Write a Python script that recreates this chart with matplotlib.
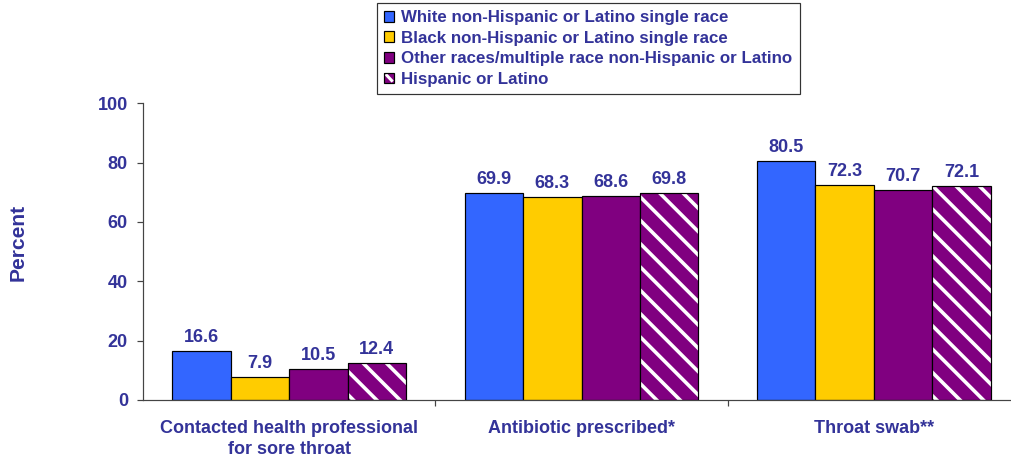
import matplotlib
matplotlib.use("Agg")
import matplotlib.pyplot as plt
import numpy as np
from matplotlib.patches import Patch, Rectangle
from matplotlib.lines import Line2D
from matplotlib.legend_handler import HandlerBase

categories = ["Contacted health professional\nfor sore throat", "Antibiotic prescribed*", "Throat swab**"]
series_names = ["White non-Hispanic or Latino single race",
                "Black non-Hispanic or Latino single race",
                "Other races/multiple race non-Hispanic or Latino",
                "Hispanic or Latino"]
white_vals = [16.6, 69.9, 80.5]
black_vals = [7.9, 68.3, 72.3]
other_vals = [10.5, 68.6, 70.7]
hisp_vals = [12.4, 69.8, 72.1]
yticks = [0, 20, 40, 60, 80, 100]

colors = ["#3366FF", "#FFCC00", "#800080", "#800080"]
TXT = "#333399"

W, H, DPI = 1011, 466, 70
def pt(px):
    return px * 72.0 / DPI

plt.rcParams['font.family'] = ['Liberation Sans', 'DejaVu Sans']
plt.rcParams['font.weight'] = 'bold'
plt.rcParams['hatch.linewidth'] = pt(3.6)

fig = plt.figure(figsize=(W / DPI, H / DPI), dpi=DPI)
ax = fig.add_axes([143 / W, (H - 400) / H, (1020 - 143) / W, (400 - 103.3) / H])

x = np.arange(len(categories))
bw = 0.2
all_vals = [white_vals, black_vals, other_vals, hisp_vals]
for i, vals in enumerate(all_vals):
    pos = x + (i - 1.5) * bw
    if i < 3:
        ax.bar(pos, vals, bw, color=colors[i], edgecolor='black', linewidth=pt(1.2), zorder=2)
    else:
        ax.bar(pos, vals, bw, color=colors[i], edgecolor='white', hatch='\\', linewidth=0, zorder=2)
        ax.bar(pos, vals, bw, fill=False, edgecolor='black', linewidth=pt(1.2), zorder=3)
    for p, v in zip(pos, vals):
        ax.annotate(f"{v:.1f}", (p, v), xytext=(0, pt(9)), textcoords='offset points',
                    ha='center', va='baseline', color=TXT, fontsize=pt(18), fontweight='bold')

ax.set_xlim(-0.5, 2.5)
ax.set_ylim(0, 100)
ax.set_yticks(yticks)
ax.set_yticklabels([str(t) for t in yticks])
ax.set_xticks([0.5, 1.5])
ax.set_xticklabels([])
ax.tick_params(axis='y', direction='out', length=pt(6), width=pt(1.2), color='#444444',
               labelsize=pt(18), labelcolor=TXT, pad=pt(9))
ax.tick_params(axis='x', direction='out', length=pt(6), width=pt(1.2), color='#444444')
for s in ['top', 'right']:
    ax.spines[s].set_visible(False)
for s in ['left', 'bottom']:
    ax.spines[s].set_color('#444444')
    ax.spines[s].set_linewidth(pt(1.2))

for xi, c in zip(x, categories):
    ax.text(xi, -0.068, c, transform=ax.get_xaxis_transform(), ha='center', va='top',
            color=TXT, fontsize=pt(18), fontweight='bold', linespacing=1.3)

fig.text(18 / W, 1 - 242 / H, "Percent", rotation=90, ha='center', va='center',
         color=TXT, fontsize=pt(21), fontweight='bold')


class StripeHandler(HandlerBase):
    def create_artists(self, legend, orig_handle, xdescent, ydescent, width, height,
                       fontsize, trans):
        x0, y0 = -xdescent, -ydescent
        bg = Rectangle((x0, y0), width, height, facecolor=colors[3], edgecolor='none',
                       transform=trans)
        ln = Line2D([x0 + width * 0.15, x0 + width * 0.85], [y0 + height * 0.85, y0 + height * 0.15],
                    color='white', linewidth=pt(3), transform=trans, solid_capstyle='butt')
        ln.set_clip_path(bg)
        fr = Rectangle((x0, y0), width, height, fill=False, edgecolor='black',
                       linewidth=pt(1.2), transform=trans)
        return [bg, ln, fr]


handles = [Patch(facecolor=colors[0], edgecolor='black', linewidth=pt(1.2)),
           Patch(facecolor=colors[1], edgecolor='black', linewidth=pt(1.2)),
           Patch(facecolor=colors[2], edgecolor='black', linewidth=pt(1.2)),
           Patch(facecolor=colors[3], edgecolor='black', label='hisp')]
leg = fig.legend(handles, series_names, loc='upper left', bbox_to_anchor=(377 / W, 1 - 3 / H),
                 borderaxespad=0, frameon=True, fancybox=False, edgecolor='black',
                 handlelength=0.6, handleheight=0.6, handletextpad=0.42, labelspacing=0.33,
                 borderpad=0.42, prop={'size': pt(16.9), 'weight': 'bold'},
                 handler_map={handles[3]: StripeHandler()})
leg.get_frame().set_linewidth(pt(1.2))
for t in leg.get_texts():
    t.set_color(TXT)

fig.savefig("out.png", dpi=DPI)
